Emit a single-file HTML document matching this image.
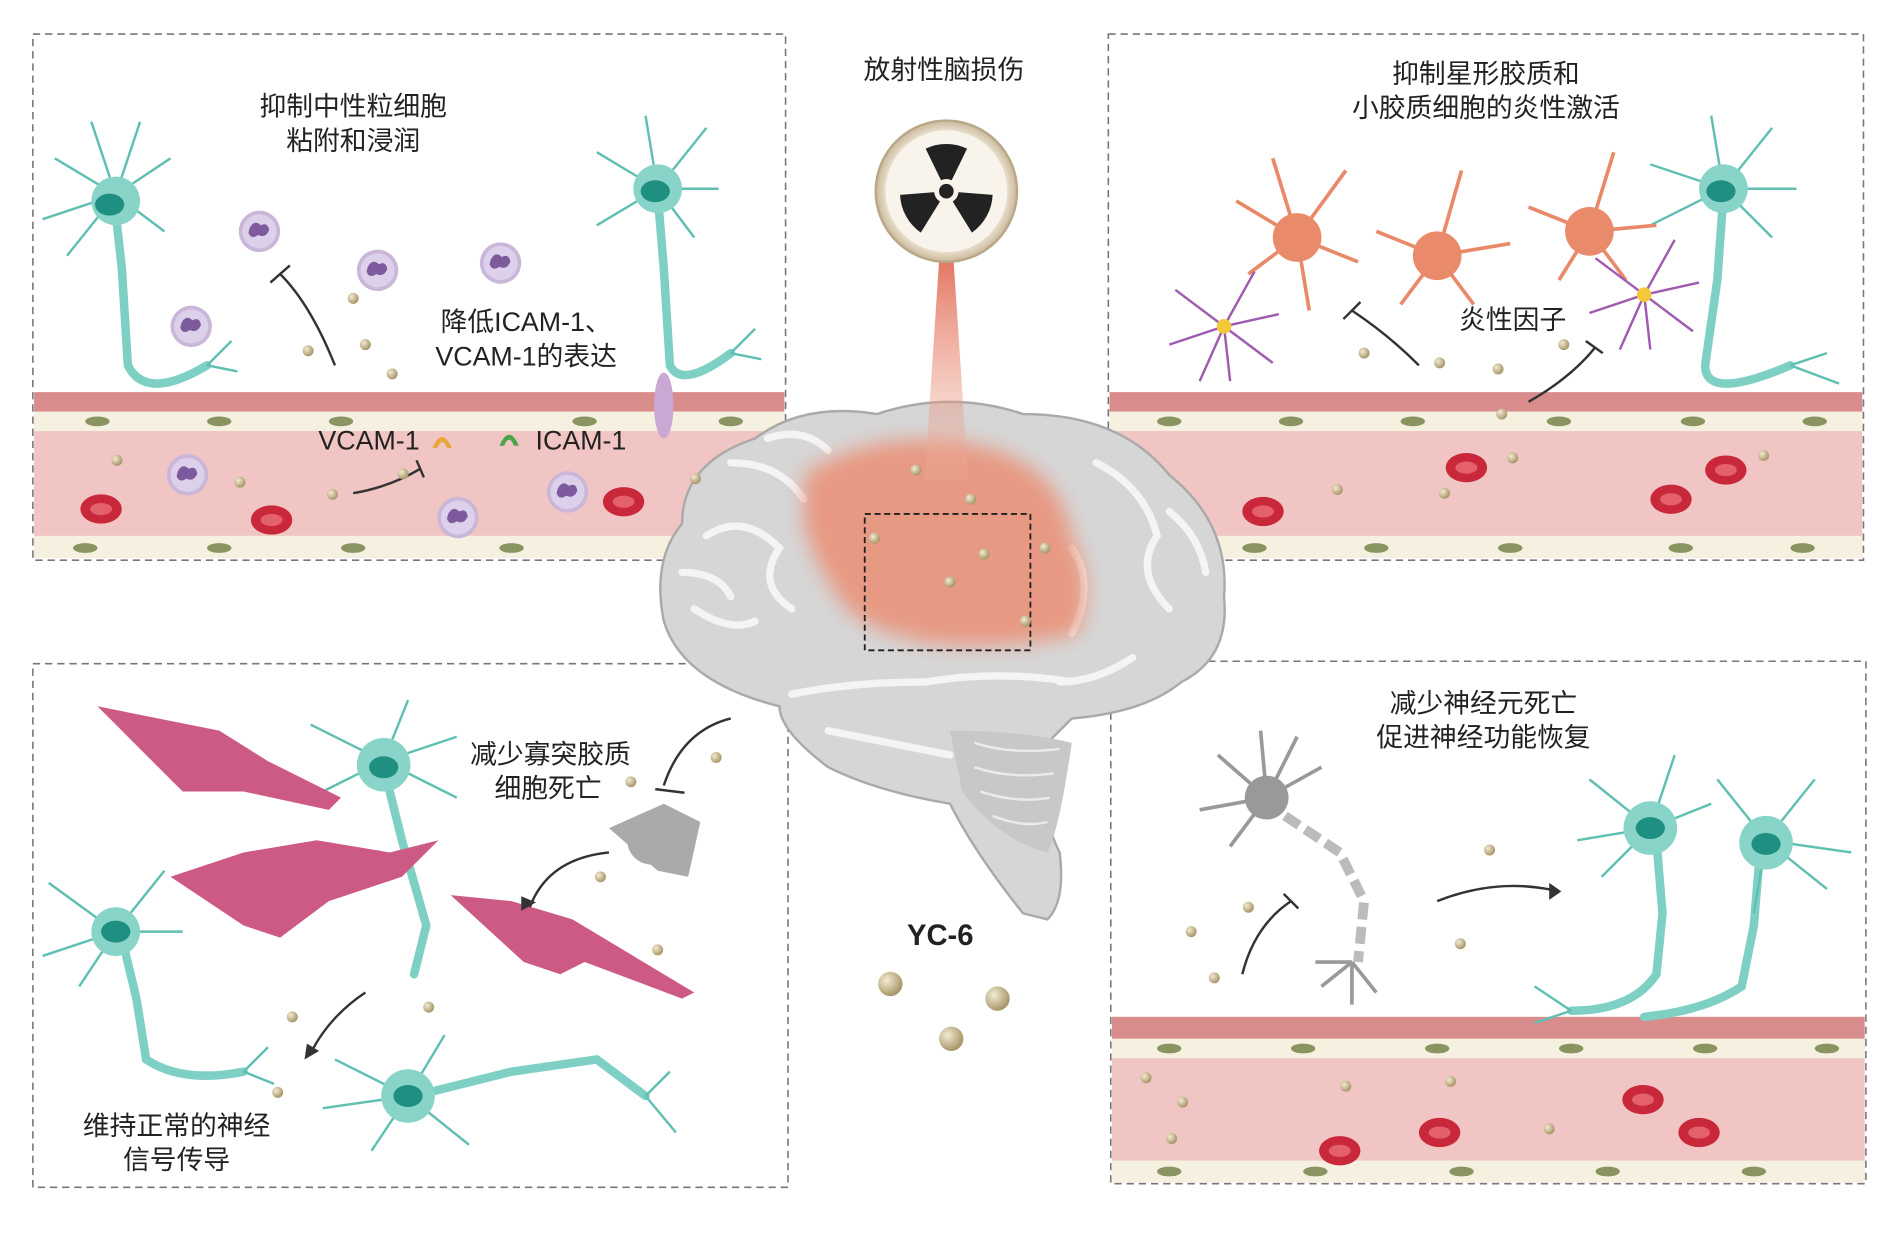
<!DOCTYPE html>
<html><head><meta charset="utf-8"><style>
html,body{margin:0;padding:0;background:#fff}
svg{display:block}
text{font-family:"Liberation Sans","Noto Sans CJK SC",sans-serif;fill:#222}
</style></head><body>
<svg width="1900" height="1247" viewBox="0 0 1560 1024" preserveAspectRatio="none" xmlns="http://www.w3.org/2000/svg">
<defs>
<radialGradient id="rad" cx="50%" cy="50%" r="50%"><stop offset="0" stop-color="#fff"/><stop offset="0.8" stop-color="#f6efe2"/><stop offset="1" stop-color="#c9b89a"/></radialGradient>
<radialGradient id="ball" cx="35%" cy="35%" r="65%"><stop offset="0" stop-color="#f3ebd2"/><stop offset="1" stop-color="#a8976a"/></radialGradient>
<linearGradient id="beam" x1="0" y1="0" x2="0" y2="1"><stop offset="0" stop-color="#d9482f"/><stop offset="1" stop-color="#f2b5a0" stop-opacity="0.2"/></linearGradient>
<filter id="blur"><feGaussianBlur stdDeviation="8"/></filter>
<g id="rbc"><ellipse rx="17" ry="12" fill="#c8283a"/><ellipse rx="9" ry="5" fill="#e3606c"/></g>
<g id="neu"><ellipse rx="12" ry="9" fill="#1e8f80"/></g>
<g id="wbc"><circle r="17" fill="#c9b6d8"/><circle r="14" fill="#ddd0ea"/><path d="M-8,-3 q4,-7 9,-2 q6,-3 7,4 q-3,7 -9,4 q-6,4 -8,-2z" fill="#7c5a9c"/></g>
<g id="b"><circle r="4.5" fill="url(#ball)"/></g>
</defs>

<g fill="none" stroke="#777" stroke-width="1.3" stroke-dasharray="6,4">
<rect x="27" y="28" width="618" height="432"/>
<rect x="910" y="28" width="620" height="432"/>
<rect x="27" y="545" width="620" height="430"/>
<rect x="912" y="543" width="620" height="429"/>
</g>

<g>
<rect x="28" y="322" width="616" height="16" fill="#d98c8c"/>
<rect x="28" y="338" width="616" height="120" fill="#f0c5c3"/>
<rect x="28" y="338" width="616" height="16" fill="#f5f0e0"/>
<rect x="28" y="440" width="616" height="18" fill="#f5f0e0"/>
<rect x="911" y="322" width="618" height="16" fill="#d98c8c"/>
<rect x="911" y="338" width="618" height="120" fill="#f0c5c3"/>
<rect x="911" y="338" width="618" height="16" fill="#f5f0e0"/>
<rect x="911" y="440" width="618" height="18" fill="#f5f0e0"/>
<rect x="913" y="835" width="618" height="18" fill="#d98c8c"/>
<rect x="913" y="853" width="618" height="118" fill="#f0c5c3"/>
<rect x="913" y="853" width="618" height="16" fill="#f5f0e0"/>
<rect x="913" y="953" width="618" height="18" fill="#f5f0e0"/>
<g fill="#8a9460">
<ellipse cx="80" cy="346" rx="10" ry="4"/><ellipse cx="180" cy="346" rx="10" ry="4"/><ellipse cx="280" cy="346" rx="10" ry="4"/><ellipse cx="480" cy="346" rx="10" ry="4"/><ellipse cx="600" cy="346" rx="10" ry="4"/>
<ellipse cx="70" cy="450" rx="10" ry="4"/><ellipse cx="180" cy="450" rx="10" ry="4"/><ellipse cx="290" cy="450" rx="10" ry="4"/><ellipse cx="420" cy="450" rx="10" ry="4"/>
<ellipse cx="960" cy="346" rx="10" ry="4"/><ellipse cx="1060" cy="346" rx="10" ry="4"/><ellipse cx="1160" cy="346" rx="10" ry="4"/><ellipse cx="1280" cy="346" rx="10" ry="4"/><ellipse cx="1390" cy="346" rx="10" ry="4"/><ellipse cx="1490" cy="346" rx="10" ry="4"/>
<ellipse cx="1030" cy="450" rx="10" ry="4"/><ellipse cx="1130" cy="450" rx="10" ry="4"/><ellipse cx="1240" cy="450" rx="10" ry="4"/><ellipse cx="1380" cy="450" rx="10" ry="4"/><ellipse cx="1480" cy="450" rx="10" ry="4"/>
<ellipse cx="960" cy="861" rx="10" ry="4"/><ellipse cx="1070" cy="861" rx="10" ry="4"/><ellipse cx="1180" cy="861" rx="10" ry="4"/><ellipse cx="1290" cy="861" rx="10" ry="4"/><ellipse cx="1400" cy="861" rx="10" ry="4"/><ellipse cx="1500" cy="861" rx="10" ry="4"/>
<ellipse cx="960" cy="962" rx="10" ry="4"/><ellipse cx="1080" cy="962" rx="10" ry="4"/><ellipse cx="1200" cy="962" rx="10" ry="4"/><ellipse cx="1320" cy="962" rx="10" ry="4"/><ellipse cx="1440" cy="962" rx="10" ry="4"/>
</g>
<use href="#rbc" x="83" y="418"/><use href="#rbc" x="223" y="427"/><use href="#rbc" x="512" y="412"/>
<use href="#rbc" x="1037" y="420"/><use href="#rbc" x="1204" y="384"/><use href="#rbc" x="1372" y="410"/><use href="#rbc" x="1417" y="386"/>
<use href="#rbc" x="1100" y="945"/><use href="#rbc" x="1182" y="930"/><use href="#rbc" x="1349" y="903"/><use href="#rbc" x="1395" y="930"/>
<use href="#wbc" x="154" y="390"/><use href="#wbc" x="376" y="425"/><use href="#wbc" x="466" y="404"/>
<use href="#wbc" x="213" y="190"/><use href="#wbc" x="310" y="222"/><use href="#wbc" x="411" y="216"/><use href="#wbc" x="157" y="268"/>
<ellipse cx="545" cy="333" rx="8" ry="27" fill="#c9a8d4"/>
</g>

<g stroke="#7fd0c4" stroke-width="7" fill="none" stroke-linecap="round">
<path d="M95,175 L100,220 L105,300 Q120,330 170,300"/>
<path d="M540,160 L545,220 L550,300 Q560,320 600,290"/>
<path d="M1415,160 L1410,230 L1400,300 Q1400,330 1470,300"/>
<path d="M315,630 L330,690 L350,760 L340,800"/>
<path d="M100,770 L112,820 L120,870 Q150,890 200,880"/>
<path d="M340,900 L420,880 L490,870 L530,900"/>
<path d="M1360,690 L1365,750 L1360,800 Q1340,830 1290,830"/>
<path d="M1445,700 L1440,760 L1430,810 Q1400,830 1350,835"/>
</g>
<g stroke="#5fbfb2" stroke-width="2" fill="none">
<path d="M95,160 l-50,-30 M95,160 l-60,20 M95,160 l-40,50 M95,160 l20,-60 M95,160 l45,-30 M95,160 l40,30 M95,160 l-20,-60"/>
<path d="M540,155 l-50,-30 M540,155 l-50,30 M540,155 l40,-50 M540,155 l50,0 M540,155 l30,40 M540,155 l-10,-60"/>
<path d="M1415,155 l-60,-20 M1415,155 l-60,30 M1415,155 l40,-50 M1415,155 l60,0 M1415,155 l40,40 M1415,155 l-10,-60"/>
<path d="M315,625 l-60,-30 M315,625 l-60,30 M315,625 l20,-50 M315,625 l60,-20 M315,625 l60,30"/>
<path d="M95,765 l-55,-40 M95,765 l-60,20 M95,765 l-30,45 M95,765 l40,-50 M95,765 l55,0"/>
<path d="M335,900 l-60,-30 M335,900 l-70,10 M335,900 l-30,45 M335,900 l30,-50 M335,900 l50,40"/>
<path d="M1355,680 l-50,-40 M1355,680 l-60,10 M1355,680 l20,-60 M1355,680 l50,-20 M1355,680 l-40,40"/>
<path d="M1450,690 l-40,-50 M1450,690 l40,-50 M1450,690 l70,10 M1450,690 l50,40 M1450,690 l-10,60"/>
<path d="M170,300 l20,-20 M170,300 l25,5 M600,290 l20,-20 M600,290 l25,5 M200,880 l20,-20 M200,880 l25,10 M530,900 l20,-20 M530,900 l25,30 M1290,830 l-30,-20 M1290,830 l-30,10 M1470,300 l30,-10 M1470,300 l40,15"/>
</g>
<g fill="#88d4c8"><circle cx="95" cy="165" r="20"/><circle cx="540" cy="155" r="20"/><circle cx="1415" cy="155" r="20"/><circle cx="315" cy="628" r="22"/><circle cx="95" cy="765" r="20"/><circle cx="335" cy="900" r="22"/><circle cx="1355" cy="680" r="22"/><circle cx="1450" cy="692" r="22"/></g>
<use href="#neu" x="90" y="168"/><use href="#neu" x="538" y="157"/><use href="#neu" x="1413" y="157"/><use href="#neu" x="315" y="630"/><use href="#neu" x="95" y="765"/><use href="#neu" x="335" y="900"/><use href="#neu" x="1355" y="680"/><use href="#neu" x="1450" y="693"/>

<g stroke="#e88a6a" stroke-width="3" fill="none">
<path d="M1065,195 l-50,-30 M1065,195 l-20,-65 M1065,195 l40,-55 M1065,195 l50,20 M1065,195 l10,60 M1065,195 l-40,30"/>
<path d="M1180,210 l-50,-20 M1180,210 l20,-70 M1180,210 l60,-10 M1180,210 l30,40 M1180,210 l-30,40"/>
<path d="M1305,190 l-50,-20 M1305,190 l20,-65 M1305,190 l55,-5 M1305,190 l30,40 M1305,190 l-25,40"/>
</g>
<g fill="#e98b6b"><circle cx="1065" cy="195" r="20"/><circle cx="1180" cy="210" r="20"/><circle cx="1305" cy="190" r="20"/></g>
<g stroke="#a05bb0" stroke-width="2" fill="none">
<path d="M1005,268 l-40,-30 M1005,268 l-45,15 M1005,268 l-20,45 M1005,268 l25,-45 M1005,268 l45,-10 M1005,268 l40,30 M1005,268 l5,45"/>
<path d="M1350,242 l-40,-30 M1350,242 l-45,15 M1350,242 l-20,45 M1350,242 l25,-45 M1350,242 l45,-10 M1350,242 l40,30 M1350,242 l5,45"/>
</g>
<circle cx="1005" cy="268" r="6" fill="#f3c93a"/><circle cx="1350" cy="242" r="6" fill="#f3c93a"/>

<g fill="#cc5a85">
<path d="M80,580 L180,600 L220,625 L280,655 L270,665 L200,650 L150,650 Q120,620 80,580z"/>
<path d="M140,720 L200,700 L260,690 L320,700 L360,690 L330,720 L270,740 L230,770 L200,760 Z"/>
<path d="M370,735 L420,740 L470,755 L570,815 L560,820 L480,790 L460,800 L430,790 Z"/>
</g>
<g fill="#aaa"><path d="M500,680 L545,660 L575,675 L565,720 L540,715 Z"/><circle cx="535" cy="690" r="20"/></g>
<g stroke="#999" stroke-width="3" fill="none">
<path d="M1040,655 l-40,-35 M1040,655 l-55,10 M1040,655 l-30,40 M1040,655 l25,-50 M1040,655 l45,-25 M1040,655 l-5,-55"/>
<path d="M1055,670 L1100,700 L1120,740 L1115,790" stroke-dasharray="14,6" stroke-width="8" stroke="#bbb"/>
<path d="M1110,790 l-25,20 M1110,790 l20,25 M1110,790 l0,35 M1110,790 l-30,0"/>
</g>
<circle cx="1040" cy="655" r="18" fill="#999"/>

<g stroke="#333" stroke-width="2" fill="none">
<path d="M275,300 Q255,250 230,225"/><path d="M222,232 l16,-14"/>
<path d="M290,405 Q320,400 345,385"/><path d="M342,378 l6,14"/>
<path d="M1165,300 Q1140,275 1110,255"/><path d="M1103,262 l14,-14"/>
<path d="M1255,330 Q1290,310 1310,285"/><path d="M1302,280 l14,10"/>
<path d="M600,590 Q560,600 545,645"/><path d="M538,648 l24,3"/>
<path d="M500,700 Q450,705 435,745"/>
<path d="M300,815 Q270,835 255,865"/>
<path d="M1020,800 Q1030,760 1060,740"/><path d="M1054,734 l12,12"/>
<path d="M1180,740 Q1230,720 1280,732"/>
</g>
<g fill="#333"><path d="M428,748 l0,-12 l12,5z"/><path d="M250,870 l2,-13 l10,6z"/><path d="M1282,732 l-10,-7 l0,14z"/></g>

<!-- Brain -->
<path d="M560,430 Q560,380 620,360 Q660,330 720,340 Q780,320 840,340 Q920,340 960,390 Q1010,430 1005,490 Q1010,540 970,560 Q940,585 880,590 L860,610 Q850,660 870,700 Q875,740 860,755 L840,750 Q800,700 780,660 Q720,650 680,630 Q640,600 640,580 Q560,560 545,510 Q535,460 560,430Z" fill="#d6d6d6" stroke="#aaa" stroke-width="2"/>
<path d="M780,600 Q840,600 880,610 Q870,680 860,700 Q820,690 790,650 Z" fill="#c8c8c8"/>
<g stroke="#f4f4f4" stroke-width="6" fill="none" stroke-linecap="round">
<path d="M580,440 Q610,420 640,450 Q620,480 650,500"/><path d="M600,380 Q640,380 660,410"/><path d="M570,500 Q600,520 620,510"/>
<path d="M900,380 Q940,400 950,440 Q930,470 960,500"/><path d="M880,450 Q900,480 880,520"/><path d="M930,540 Q900,560 870,560"/>
<path d="M650,570 Q700,560 760,560 Q820,550 880,560"/><path d="M680,600 Q730,610 780,620"/>
<path d="M560,470 Q590,470 600,490"/><path d="M630,360 Q660,350 680,370"/><path d="M960,420 Q985,440 990,470"/>
</g>
<g stroke="#ebebeb" stroke-width="2" fill="none">
<path d="M800,610 Q830,620 870,615"/><path d="M800,630 Q830,640 865,635"/><path d="M805,650 Q835,660 862,655"/><path d="M815,670 Q840,680 860,675"/>
</g>
<path d="M660,390 Q720,350 800,365 Q870,380 880,440 Q900,480 885,520 Q850,530 800,530 Q740,530 700,505 Q670,470 660,430Z" fill="#eb8f74" opacity="0.85" filter="url(#blur)"/>
<rect x="710" y="422" width="136" height="112" fill="none" stroke="#222" stroke-width="1.5" stroke-dasharray="5,3"/>
<path d="M774,170 L780,170 L795,395 L759,395Z" fill="url(#beam)"/>
<circle cx="777" cy="157" r="58" fill="url(#rad)" stroke="#b9a888" stroke-width="2"/>
<circle cx="777" cy="157" r="50" fill="#f8f4ec"/>
<g fill="#222">
<path d="M777,157 L760,122 A40,40 0 0 1 794,122Z"/>
<path d="M777,157 L815,160 A40,40 0 0 1 798,191Z"/>
<path d="M777,157 L756,191 A40,40 0 0 1 739,160Z"/>
</g>
<circle cx="777" cy="157" r="10" fill="#f8f4ec"/><circle cx="777" cy="157" r="6" fill="#222"/>

<use href="#b" x="290" y="245"/><use href="#b" x="253" y="288"/><use href="#b" x="300" y="283"/><use href="#b" x="322" y="307"/><use href="#b" x="96" y="378"/><use href="#b" x="197" y="396"/><use href="#b" x="273" y="406"/><use href="#b" x="331" y="389"/><use href="#b" x="571" y="393"/>
<use href="#b" x="1120" y="290"/><use href="#b" x="1182" y="298"/><use href="#b" x="1230" y="303"/><use href="#b" x="1284" y="283"/><use href="#b" x="1233" y="340"/><use href="#b" x="1098" y="402"/><use href="#b" x="1186" y="405"/><use href="#b" x="1242" y="376"/><use href="#b" x="1448" y="374"/>
<use href="#b" x="752" y="386"/><use href="#b" x="797" y="410"/><use href="#b" x="718" y="442"/><use href="#b" x="808" y="455"/><use href="#b" x="858" y="450"/><use href="#b" x="780" y="478"/><use href="#b" x="842" y="510"/>
<use href="#b" x="588" y="622"/><use href="#b" x="518" y="642"/><use href="#b" x="493" y="720"/><use href="#b" x="540" y="780"/><use href="#b" x="240" y="835"/><use href="#b" x="352" y="827"/><use href="#b" x="228" y="897"/>
<use href="#b" x="1223" y="698"/><use href="#b" x="1025" y="745"/><use href="#b" x="978" y="765"/><use href="#b" x="997" y="803"/><use href="#b" x="1199" y="775"/><use href="#b" x="941" y="885"/><use href="#b" x="971" y="905"/><use href="#b" x="1105" y="892"/><use href="#b" x="1191" y="888"/><use href="#b" x="962" y="935"/><use href="#b" x="1272" y="927"/>
<circle cx="731" cy="808" r="10" fill="url(#ball)"/><circle cx="819" cy="820" r="10" fill="url(#ball)"/><circle cx="781" cy="853" r="10" fill="url(#ball)"/>

<path d="M355,368 q8,-18 16,0 l-4,0 q-4,-10 -8,0z" fill="#e8a53a"/>
<path d="M410,366 q8,-18 16,0 l-4,0 q-4,-10 -8,0z" fill="#4aa54a"/>

<g font-size="22" text-anchor="middle">
<text x="290" y="95">抑制中性粒细胞</text>
<text x="290" y="123">粘附和浸润</text>
<text x="432" y="272">降低ICAM-1、</text>
<text x="432" y="300">VCAM-1的表达</text>
<text x="303" y="369">VCAM-1</text>
<text x="477" y="369">ICAM-1</text>
<text x="775" y="65">放射性脑损伤</text>
<text x="1220" y="68">抑制星形胶质和</text>
<text x="1220" y="96">小胶质细胞的炎性激活</text>
<text x="1242" y="270">炎性因子</text>
<text x="452" y="627">减少寡突胶质</text>
<text x="450" y="655">细胞死亡</text>
<text x="145" y="932">维持正常的神经</text>
<text x="145" y="960">信号传导</text>
<text x="1218" y="585">减少神经元死亡</text>
<text x="1218" y="613">促进神经功能恢复</text>
<text x="772" y="776" font-weight="bold" font-size="24" fill="#111">YC-6</text>
</g>
</svg>
</body></html>
